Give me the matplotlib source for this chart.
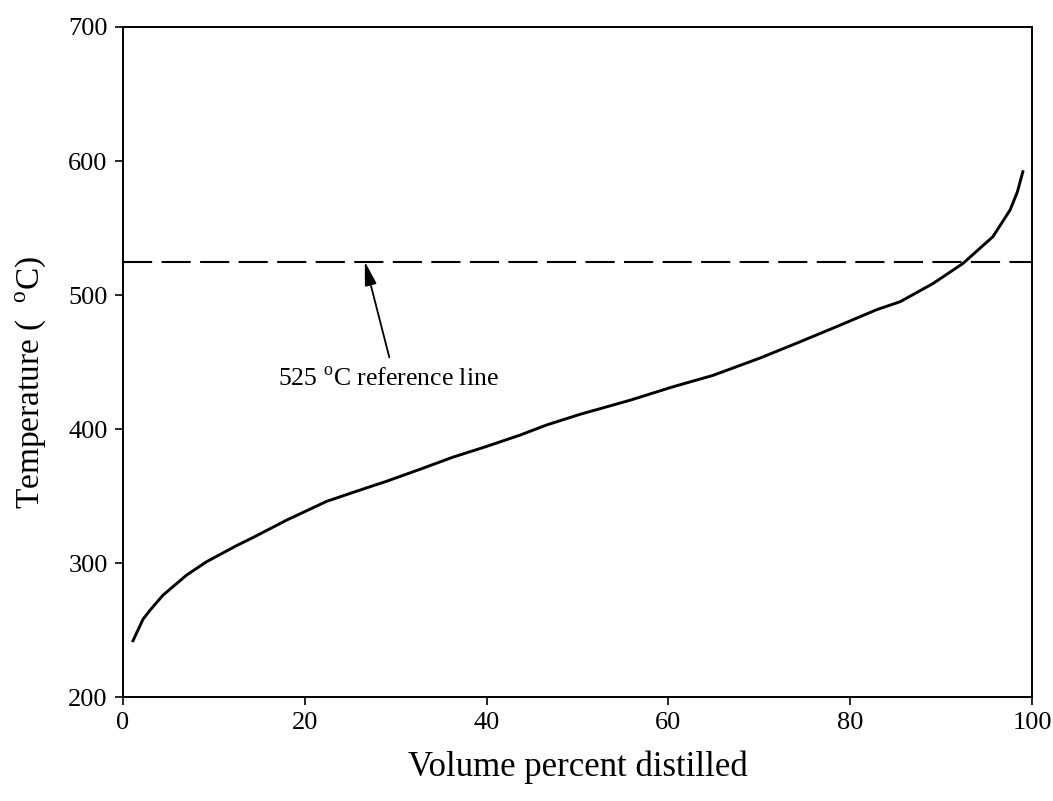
import matplotlib
matplotlib.use('Agg')
import matplotlib.pyplot as plt

# Distillation curve
volume_pct = [1.1, 2.2, 3.0, 4.4, 7.0, 9.2, 12.5, 14.3, 18.0, 22.4, 26.1, 29.0,
              32.7, 36.3, 40.0, 43.7, 46.6, 50.3, 55.8, 60.5, 64.9, 70.1, 74.1,
              78.9, 82.9, 85.5, 89.1, 92.4, 95.7, 97.6, 98.4, 99.0]
temperature = [242, 258, 265, 276, 291, 301, 313, 319, 332, 346, 354.5, 361,
               370, 379, 387, 395.5, 403, 411, 421.5, 431.5, 440, 453, 464,
               477.5, 489, 495, 508.5, 523.5, 543.5, 563.5, 577, 592]

ref_temp = 525
ref_label = '525 $^{\\mathrm{o}}$C reference line'
x_ticks = [0, 20, 40, 60, 80, 100]
y_ticks = [200, 300, 400, 500, 600, 700]

plt.rcParams['font.family'] = ['Liberation Serif', 'DejaVu Serif']
plt.rcParams['mathtext.fontset'] = 'custom'
plt.rcParams['mathtext.rm'] = 'Liberation Serif'

fig = plt.figure(figsize=(10.53, 8.01), dpi=100)
ax = fig.add_axes([0.1168, 0.1298, 0.8632, 0.8365])

ax.plot(volume_pct, temperature, color='black', linewidth=2.1)
ax.axhline(ref_temp, color='black', linewidth=1.5, dashes=(14, 4.5))

# arrow pointing at the reference line
ax.annotate('', xy=(26.6, ref_temp), xytext=(29.3, 453.5),
            arrowprops=dict(arrowstyle='-|>,head_length=1.2,head_width=0.3',
                            color='black', lw=1.3, mutation_scale=12,
                            shrinkA=0, shrinkB=0))
ax.text(29.2, 437, ref_label, ha='center', va='center', fontsize=18.5)

ax.set_xlim(0, 100)
ax.set_ylim(200, 700)
ax.set_xticks(x_ticks)
ax.set_yticks(y_ticks)
ax.tick_params(direction='out', length=6, width=1.2, labelsize=19, pad=5)
for s in ax.spines.values():
    s.set_linewidth(1.4)

ax.set_xlabel('Volume percent distilled', fontsize=25, labelpad=12)
ax.set_ylabel('Temperature (  $^{\\mathrm{o}}$C)', fontsize=24)
ax.yaxis.set_label_coords(-0.083, 0.47)

fig.savefig('out.png', dpi=100)
